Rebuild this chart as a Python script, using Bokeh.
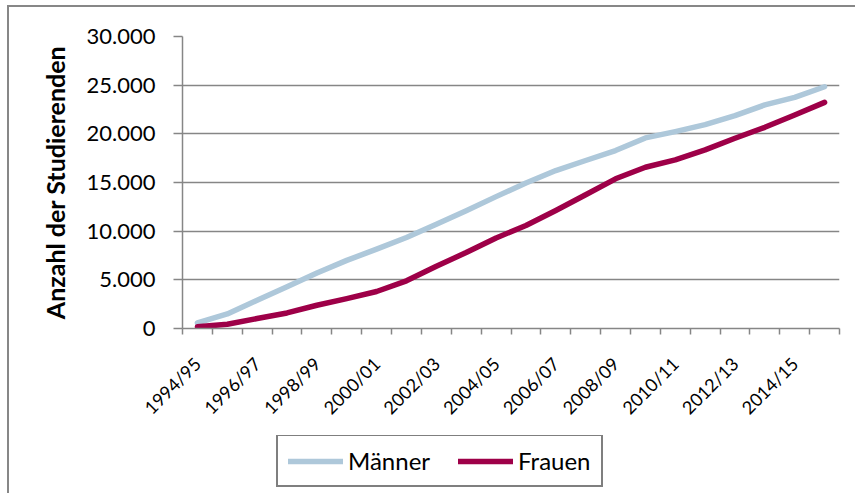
import math
from bokeh.plotting import figure
from bokeh.layouts import column
from bokeh.models import Range1d, FixedTicker, Legend, LegendItem
from bokeh.embed import file_html
from bokeh.resources import INLINE

# ---- data -------------------------------------------------------------
semesters = ["1994/95", "1995/96", "1996/97", "1997/98", "1998/99", "1999/00",
             "2000/01", "2001/02", "2002/03", "2003/04", "2004/05", "2005/06",
             "2006/07", "2007/08", "2008/09", "2009/10", "2010/11", "2011/12",
             "2012/13", "2013/14", "2014/15", "2015/16"]
maenner = [580, 1500, 2900, 4300, 5700, 7000, 8150, 9350, 10700, 12100, 13550,
           14950, 16230, 17260, 18280, 19580, 20230, 20950, 21870, 22970, 23750, 24840]
frauen = [170, 440, 1020, 1600, 2390, 3075, 3800, 4900, 6400, 7800, 9300,
          10590, 12130, 13740, 15380, 16570, 17330, 18350, 19540, 20670, 21940, 23230]
y_ticks = [0, 5000, 10000, 15000, 20000, 25000, 30000]
y_tick_labels = ["0", "5.000", "10.000", "15.000", "20.000", "25.000", "30.000"]
series_names = ["Männer", "Frauen"]
series_colors = ["#AEC8DA", "#9E0048"]
y_title = "Anzahl der Studierenden"

# ---- main figure ------------------------------------------------------
n = len(semesters)
xs = list(range(n))
GRID = "#868686"
FONT = "Lato"
W = 846

p = figure(width=W, height=428, output_backend="svg", toolbar_location=None,
           x_range=Range1d(-0.5, n - 0.5), y_range=Range1d(0, 30000),
           min_border_left=173, min_border_right=16, min_border_top=29,
           min_border_bottom=107)
p.outline_line_color = None
p.background_fill_color = "white"
p.border_fill_color = "white"

# x axis: labels on every other category, tick marks at category borders
label_pos = xs[::2]
p.xaxis.ticker = FixedTicker(ticks=label_pos, minor_ticks=[i - 0.5 for i in range(n + 1)])
p.xaxis.major_label_overrides = {i: semesters[i] for i in label_pos}
p.xaxis.major_tick_out = 0
p.xaxis.major_tick_in = 0
p.xaxis.minor_tick_out = 6
p.xaxis.minor_tick_in = 0
p.xaxis.minor_tick_line_color = GRID
p.xaxis.minor_tick_line_width = 1.5
p.xaxis.axis_line_color = GRID
p.xaxis.axis_line_width = 1.5
p.xaxis.major_label_orientation = math.pi / 4
p.xaxis.major_label_text_font = FONT
p.xaxis.major_label_text_font_size = "18px"
p.xaxis.major_label_text_color = "black"
p.xaxis.major_label_standoff = 26

# y axis
p.yaxis.ticker = FixedTicker(ticks=y_ticks)
p.yaxis.major_label_overrides = {t: l for t, l in zip(y_ticks, y_tick_labels)}
p.yaxis.major_tick_out = 9
p.yaxis.major_tick_in = 0
p.yaxis.minor_tick_out = 0
p.yaxis.minor_tick_in = 0
p.yaxis.major_tick_line_color = GRID
p.yaxis.major_tick_line_width = 1.5
p.yaxis.axis_line_color = GRID
p.yaxis.axis_line_width = 1.5
p.yaxis.major_label_text_font = FONT
p.yaxis.major_label_text_font_size = "22px"
p.yaxis.major_label_text_color = "black"
p.yaxis.major_label_standoff = 18
p.yaxis.axis_label = y_title
p.yaxis.axis_label_text_font = FONT
p.yaxis.axis_label_text_font_size = "25px"
p.yaxis.axis_label_text_font_style = "bold"
p.yaxis.axis_label_text_color = "black"
p.yaxis.axis_label_standoff = 14

p.xgrid.visible = False
p.ygrid.ticker = FixedTicker(ticks=y_ticks)
p.ygrid.grid_line_color = GRID
p.ygrid.grid_line_width = 1.5

for vals, col in zip([maenner, frauen], series_colors):
    p.line(xs, vals, line_width=5.5, line_color=col,
           line_join="round", line_cap="round")

# ---- legend strip -----------------------------------------------------
q = figure(width=W, height=58, output_backend="svg", toolbar_location=None,
           x_range=Range1d(0, 1), y_range=Range1d(0, 1),
           x_axis_type=None, y_axis_type=None,
           min_border_left=0, min_border_right=0, min_border_top=0,
           min_border_bottom=0)
q.outline_line_color = None
q.xgrid.visible = False
q.ygrid.visible = False
q.background_fill_color = "white"
q.border_fill_color = "white"
items = []
for name, col in zip(series_names, series_colors):
    # legend proxy: a single NaN point draws nothing in the strip itself
    r = q.line(x=[float("nan")], y=[float("nan")], line_width=5.5,
               line_color=col, line_cap="round")
    items.append(LegendItem(label=name, renderers=[r]))

legend = Legend(items=items, orientation="horizontal", location=(94, 6))
legend.border_line_color = "black"
legend.border_line_width = 2
legend.background_fill_color = "white"
legend.background_fill_alpha = 1
legend.label_text_font = FONT
legend.label_text_font_size = "24px"
legend.label_text_color = "black"
legend.glyph_width = 55
legend.glyph_height = 20
legend.label_standoff = 5
legend.spacing = 28
legend.padding = 10
legend.margin = 0
q.add_layout(legend, "center")

layout = column(p, q, spacing=0)
layout.styles = {"margin-left": "7px", "margin-top": "5px",
                 "border-left": "2px solid #878787", "border-top": "2px solid #878787"}

open("out.html", "w").write(file_html(layout, INLINE))
